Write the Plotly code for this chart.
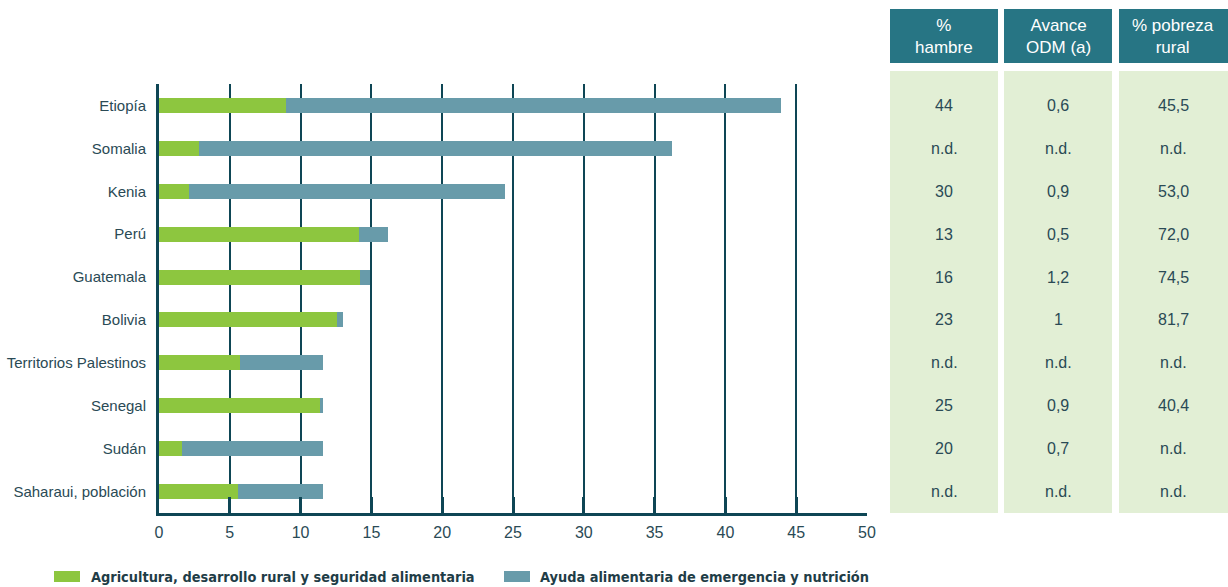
import plotly.graph_objects as go

countries = ["Etiopía", "Somalia", "Kenia", "Perú", "Guatemala", "Bolivia",
             "Territorios Palestinos", "Senegal", "Sudán", "Saharaui, población"]
agricultura = [9.0, 2.8, 2.1, 14.1, 14.2, 12.6, 5.7, 11.4, 1.6, 5.6]
ayuda = [34.9, 33.4, 22.3, 2.1, 0.7, 0.4, 5.9, 0.2, 10.0, 6.0]

hambre = ["44", "n.d.", "30", "13", "16", "23", "n.d.", "25", "20", "n.d."]
avance_odm = ["0,6", "n.d.", "0,9", "0,5", "1,2", "1", "n.d.", "0,9", "0,7", "n.d."]
pobreza_rural = ["45,5", "n.d.", "53,0", "72,0", "74,5", "81,7", "n.d.", "40,4", "n.d.", "n.d."]
table_headers = ["%<br>hambre", "Avance<br>ODM (a)", "% pobreza<br>rural"]
table_columns = [hambre, avance_odm, pobreza_rural]

series_names = ["Agricultura, desarrollo rural y seguridad alimentaria",
                "Ayuda alimentaria de emergencia y nutrición"]

GREEN = "#8DC63F"
TEAL = "#689BAA"
DARK = "#0E4655"
TEXT = "#2A4A55"
HEAD = "#277584"
BODY = "#E2EFD5"
FONT = "Liberation Sans, Arial, sans-serif"

W, H = 1228, 587
L, R, T, B = 159, 867, 84, 513


def px(x):
    return (x - L) / (R - L)


def py(y):
    return (B - y) / (B - T)


fig = go.Figure()
fig.add_trace(go.Bar(y=countries, x=agricultura, orientation="h", name=series_names[0],
                     marker=dict(color=GREEN, line=dict(width=0)), width=0.35))
fig.add_trace(go.Bar(y=countries, x=ayuda, orientation="h", name=series_names[1],
                     marker=dict(color=TEAL, line=dict(width=0)), width=0.35))

shapes = []
annotations = []

# Table
col_px = [(890, 998), (1004, 1112), (1119, 1228)]
for (x0, x1), head, col in zip(col_px, table_headers, table_columns):
    shapes.append(dict(type="rect", xref="paper", yref="paper", x0=px(x0), x1=px(x1),
                       y0=py(63), y1=py(9), fillcolor=HEAD, line=dict(width=0), layer="below"))
    shapes.append(dict(type="rect", xref="paper", yref="paper", x0=px(x0), x1=px(x1),
                       y0=py(513), y1=py(71), fillcolor=BODY, line=dict(width=0), layer="below"))
    cx = px((x0 + min(x1, 1227)) / 2)
    annotations.append(dict(xref="paper", yref="paper", x=cx, y=py(36), text=head,
                            showarrow=False, xanchor="center", yanchor="middle",
                            font=dict(family=FONT, size=17, color="white")))
    for c, v in zip(countries, col):
        annotations.append(dict(xref="paper", yref="y", x=cx, y=c, text=v, showarrow=False,
                                xanchor="center", yanchor="middle",
                                font=dict(family=FONT, size=16, color=TEXT)))

# Legend
leg = [(54, 80, 89, GREEN, series_names[0]), (504, 530, 538, TEAL, series_names[1])]
for x0, x1, xt, colr, name in leg:
    shapes.append(dict(type="rect", xref="paper", yref="paper", x0=px(x0), x1=px(x1),
                       y0=py(582), y1=py(571), fillcolor=colr, line=dict(width=0)))
    annotations.append(dict(xref="paper", yref="paper", x=px(xt), y=py(576.5), text="<b>" + name + "</b>",
                            showarrow=False, xanchor="left", yanchor="middle",
                            font=dict(family="Liberation Sans Narrow, DejaVu Sans Condensed, Arial Narrow, sans-serif",
                                      size=14.4, color="#1F3D47")))

fig.update_layout(
    barmode="stack",
    width=W, height=H,
    margin=dict(l=L, r=W - R, t=T, b=H - B, pad=0, autoexpand=False),
    plot_bgcolor="white", paper_bgcolor="white",
    showlegend=False,
    shapes=shapes,
    annotations=annotations,
    font=dict(family=FONT, color=TEXT),
)
fig.update_xaxes(range=[0, 50], dtick=5, tick0=0, showgrid=True, gridcolor=DARK, gridwidth=1.5,
                 showline=True, linecolor=DARK, linewidth=3, ticks="inside", ticklen=16,
                 tickwidth=3, tickcolor=DARK, zeroline=False, fixedrange=True, automargin=False,
                 ticklabelstandoff=3, tickfont=dict(size=16, color=TEXT))
fig.update_yaxes(type="category", range=[9.5, -0.5], showgrid=False, showline=True,
                 linecolor=DARK, linewidth=3, ticks="", ticklabelstandoff=7, automargin=False,
                 tickfont=dict(size=15, color=TEXT), fixedrange=True)

fig.write_html("out.html", config={"displayModeBar": False},
               post_script="document.body.style.margin='0';document.body.style.overflow='hidden';")
